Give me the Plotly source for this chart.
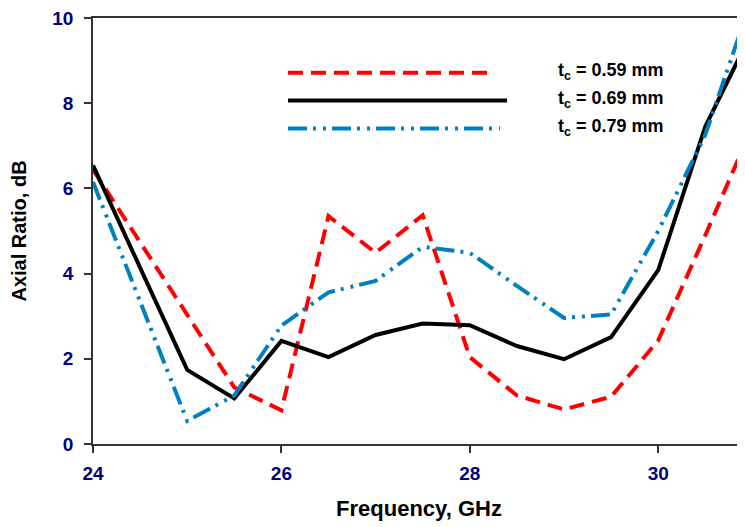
import plotly.graph_objects as go

# ---- data ----
freq_ghz = [24, 25, 25.5, 26, 26.5, 27, 27.5, 28, 28.5, 29, 29.5, 30, 30.5, 31]
ar_059 = [6.44, 3.06, 1.33, 0.79, 5.35, 4.49, 5.37, 2.04, 1.14, 0.81, 1.11, 2.43, 4.90, 7.45]
ar_069 = [6.54, 1.74, 1.07, 2.42, 2.04, 2.56, 2.83, 2.79, 2.30, 1.99, 2.51, 4.08, 7.45, 9.70]
ar_079 = [6.15, 0.54, 1.14, 2.78, 3.56, 3.83, 4.63, 4.49, 3.71, 2.96, 3.04, 5.00, 7.26, 10.5]
series_names = ["t<sub>c</sub> = 0.59 mm", "t<sub>c</sub> = 0.69 mm", "t<sub>c</sub> = 0.79 mm"]
x_ticks = [24, 26, 28, 30]
y_ticks = [0, 2, 4, 6, 8, 10]

# ---- styles ----
colors = ["#ff0000", "#000000", "#0080c0"]
dashes = ["15px,8px", "solid", "19px,6px,3px,7px,3px,6px"]
FONT = "Liberation Sans, Arial, sans-serif"
TICKCOL = "#000080"

WIN_W, WIN_H = 745, 527
OFF = 8  # page body margin offset seen in the screenshot
W, H = WIN_W - OFF, WIN_H - OFF
# target plot area in screenshot pixels
SX0, SX1, SY0, SY1 = 93, 745, 16, 444
ML = SX0 - OFF
MT = SY0 - OFF
MR = W - (SX1 - OFF)
MB = H - (SY1 - OFF)

fig = go.Figure()
for ys, name, c, d in zip([ar_059, ar_069, ar_079], series_names, colors, dashes):
    fig.add_trace(go.Scatter(x=freq_ghz, y=ys, mode="lines", name=name,
                             line=dict(color=c, width=4, dash=d), showlegend=False))

# custom legend (long samples + labels), positioned in paper coordinates
def px_x(p):
    return (p - SX0) / (SX1 - SX0)
def px_y(p):
    return (SY1 - p) / (SY1 - SY0)

legend_rows = [(71, 288, 490), (99, 288, 507), (127, 288, 500)]
for (yy, x0, x1), name, c, d in zip(legend_rows, series_names, colors, dashes):
    fig.add_shape(type="line", xref="paper", yref="paper",
                  x0=px_x(x0), x1=px_x(x1), y0=px_y(yy), y1=px_y(yy),
                  line=dict(color=c, width=4, dash=d))
    fig.add_annotation(xref="paper", yref="paper", x=px_x(556), y=px_y(yy - 1),
                       xanchor="left", yanchor="middle", showarrow=False,
                       text="<b>" + name + "</b>",
                       font=dict(family=FONT, size=18, color="#000000"))

fig.update_layout(
    width=W, height=H,
    margin=dict(l=ML, r=MR, t=MT, b=MB, pad=0),
    paper_bgcolor="white", plot_bgcolor="white",
    font=dict(family=FONT),
    xaxis=dict(range=[24, 24 + (SX1 - SX0) / 94.2], tickvals=x_ticks,
               ticks="outside", ticklen=7, tickwidth=1.5, tickcolor="#333333",
               showline=True, linecolor="#333333", linewidth=1.5, mirror=True,
               showgrid=False, zeroline=False, ticklabeloverflow="allow",
               tickfont=dict(family=FONT, size=19, color=TICKCOL, weight="bold"),
               ticklabelstandoff=4,
               title=dict(text="<b>Frequency, GHz</b>", standoff=18,
                          font=dict(family=FONT, size=22, color="#000000"))),
    yaxis=dict(range=[0, 10], tickvals=y_ticks,
               ticks="outside", ticklen=7, tickwidth=1.5, tickcolor="#333333",
               showline=True, linecolor="#333333", linewidth=1.5,
               showgrid=False, zeroline=False, ticklabeloverflow="allow",
               tickfont=dict(family=FONT, size=19, color=TICKCOL, weight="bold"),
               ticklabelstandoff=7,
               title=dict(text="<b>Axial Ratio, dB</b>", standoff=22,
                          font=dict(family=FONT, size=20, color="#000000"))),
)

fig.write_html("out.html")
